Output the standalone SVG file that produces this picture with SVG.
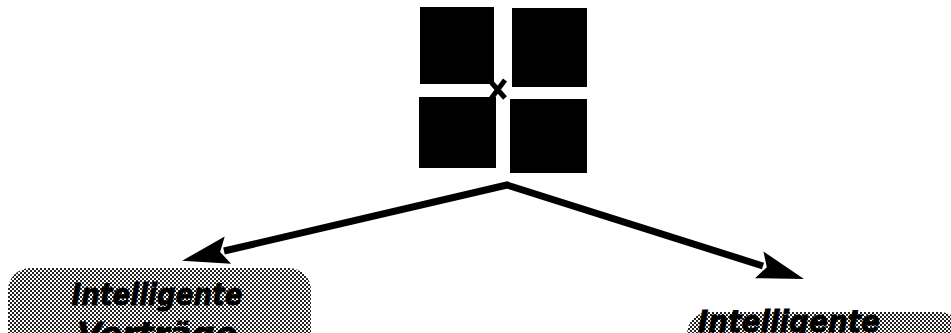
<svg xmlns="http://www.w3.org/2000/svg" width="951" height="333" viewBox="0 0 951 333">
  <defs>
    <pattern id="dither" width="4" height="4" patternUnits="userSpaceOnUse">
      <rect width="4" height="4" fill="#ffffff"/>
      <rect x="0" y="0" width="2" height="2" fill="#222"/>
      <rect x="2" y="2" width="2" height="2" fill="#222"/>
    </pattern>
    <marker id="head" markerUnits="userSpaceOnUse" markerWidth="52" markerHeight="34" refX="0" refY="0" viewBox="-5 -17 52 34" orient="auto-start-reverse" overflow="visible">
      <path d="M-4,-14 L43,0 L-4,14 L4,0 z" fill="#000"/>
    </marker>
    <style>
      .tile { fill: #000; }
      .label { font-family: "DejaVu Sans", "Liberation Sans", sans-serif; font-weight: bold; font-style: italic; font-size: 31px; fill: #000; stroke: #000; stroke-width: 0.8; text-anchor: middle; }
      .box { fill: url(#dither); }
      .conn { fill: none; stroke: #000; stroke-width: 7; stroke-linejoin: miter; }
    </style>
  </defs>
  <rect width="951" height="333" fill="#ffffff"/>

  <g id="logo">
    <rect class="tile" x="420" y="7" width="74" height="77"/>
    <rect class="tile" x="512" y="8" width="75" height="79"/>
    <rect class="tile" x="419" y="97" width="77" height="71"/>
    <rect class="tile" x="510" y="99" width="77" height="74"/>
    <path d="M491,82 L505,98 M505,80 L490,100" stroke="#000" stroke-width="5" fill="none"/>
  </g>

  <g id="connectors">
    <path class="conn" d="M224,251 L507,185 L763,266" marker-start="url(#head)" marker-end="url(#head)"/>
  </g>

  <g id="node-left">
    <rect class="box" x="8" y="268" width="303" height="90" rx="22"/>
    <text class="label" x="157" y="305" textLength="171" lengthAdjust="spacingAndGlyphs">Intelligente</text>
    <text class="label" x="157" y="344" textLength="160" lengthAdjust="spacingAndGlyphs">Verträge</text>
  </g>

  <g id="node-right">
    <rect class="box" x="687" y="312" width="275" height="60" rx="22"/>
    <text class="label" x="789" y="332" font-size="29" textLength="182" lengthAdjust="spacingAndGlyphs">Intelligente</text>
  </g>
</svg>
